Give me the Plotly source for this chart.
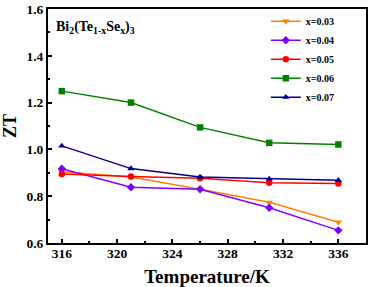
import plotly.graph_objects as go

temps = [316, 321, 326, 331, 336]
names = ["x=0.03", "x=0.04", "x=0.05", "x=0.06", "x=0.07"]
zt_003 = [0.904, 0.882, 0.830, 0.774, 0.689]
zt_004 = [0.917, 0.838, 0.830, 0.751, 0.654]
zt_005 = [0.895, 0.884, 0.877, 0.858, 0.854]
zt_006 = [1.249, 1.200, 1.094, 1.028, 1.021]
zt_007 = [1.015, 0.918, 0.882, 0.874, 0.868]
series = [zt_003, zt_004, zt_005, zt_006, zt_007]
colors = ["#FF8000", "#8000FF", "#FF0000", "#008000", "#000090"]
symbols = ["triangle-down", "diamond", "circle", "square", "triangle-up"]
xticks = [316, 320, 324, 328, 332, 336]
yticks = [0.6, 0.8, 1.0, 1.2, 1.4, 1.6]

fig = go.Figure()
for n, ys, c, s in zip(names, series, colors, symbols):
    fig.add_trace(go.Scatter(x=temps, y=ys, name=n, mode="lines+markers",
                             line=dict(color=c, width=1.5),
                             marker=dict(color=c, symbol=s, size=6.5)))

font = "Times New Roman, Liberation Serif, serif"
axis_common = dict(showline=True, linecolor="black", linewidth=2, mirror=True,
                   ticks="inside", ticklen=4, tickwidth=1.5, tickcolor="black",
                   showgrid=False, zeroline=False, automargin=False,
                   tickfont=dict(family=font, size=13.5, color="black", weight="bold"))
fig.update_xaxes(range=[315, 338], tickvals=xticks, ticktext=[str(v) for v in xticks],
                 minor=dict(ticks="inside", ticklen=2, dtick=2, tick0=316, tickcolor="black"),
                 ticklabelstandoff=-3,
                 title=dict(text="Temperature/K", font=dict(family=font, size=19, color="black", weight="bold")),
                 **axis_common)
fig.update_yaxes(range=[0.6, 1.6], tickvals=yticks, ticktext=["%.1f" % v for v in yticks],
                 minor=dict(ticks="inside", ticklen=2, dtick=0.1, tick0=0.6, tickcolor="black"),
                 title=dict(text="ZT", font=dict(family=font, size=18, color="black", weight="bold")),
                 **axis_common)
fig.update_layout(
    width=371, height=287,
    margin=dict(l=48, r=5, t=9, b=44),
    plot_bgcolor="white", paper_bgcolor="white",
    legend=dict(x=0.685, y=1.01, xanchor="left", yanchor="top",
                font=dict(family=font, size=10, color="black", weight="bold"),
                bgcolor="rgba(0,0,0,0)", itemwidth=30, tracegroupgap=0),
    annotations=[dict(x=0.02, y=0.92, xref="paper", yref="paper", xanchor="left", yanchor="middle",
                      text="Bi<sub>2</sub>(Te<sub>1-x</sub>Se<sub>x</sub>)<sub>3</sub>",
                      showarrow=False, font=dict(family=font, size=14, color="black", weight="bold"))],
)
fig.write_html("out.html", config={"displayModeBar": False},
               post_script="document.body.style.margin='0';document.body.style.overflow='hidden';")
